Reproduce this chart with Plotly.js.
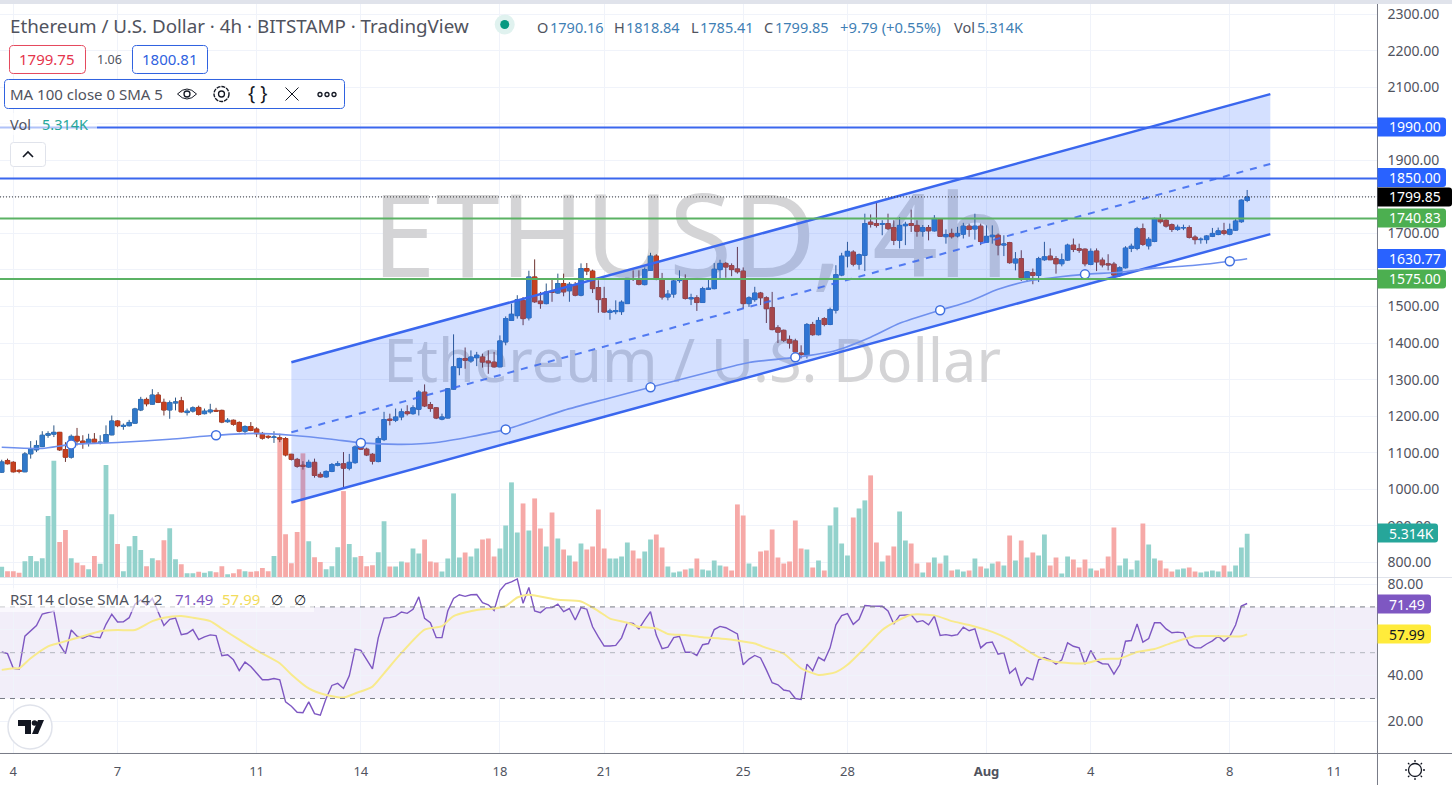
<!DOCTYPE html>
<html><head><meta charset="utf-8">
<script src="https://cdn.plot.ly/plotly-3.0.1.min.js"></script>
<style>html,body{margin:0;padding:0;background:#fff}#c{width:1452px;height:785px}</style>
</head><body><div id="c"></div>
<script>
const firstBar=-2;
const opens=[1047,1079,1074,1052,1048,1097,1108,1117,1148,1151,
1156,1109,1088,1145,1132,1127,1137,1128,1129,1149,
1187,1172,1174,1181,1217,1246,1233,1258,1238,1217,
1236,1242,1210,1214,1224,1207,1212,1216,1216,1185,
1189,1183,1159,1172,1165,1153,1145,1142,1141,1139,
1096,1082,1066,1061,1074,1041,1034,1049,1066,1070,
1058,1073,1123,1110,1096,1076,1136,1192,1189,
1198,1212,1207,1219,1266,1232,1223,1192,1195,1274,
1333,1358,1351,1360,1362,1351,1348,1335,1403,1462,
1475,1517,1469,1581,1515,1508,1541,1537,1563,1543,
1558,1531,1604,1597,1552,1522,1484,1486,1486,1508,
1576,1572,1560,1599,1638,1574,1526,
1534,1571,1575,1521,1524,1511,1547,1549,1601,1618,
1612,1603,1597,1508,1519,1537,1524,1497,1442,1435,
1410,1406,1373,1367,1451,1423,1467,1451,1490,1586,
1638,1649,1616,1640,1731,1727,1725,1727,1716,1681,
1721,1727,1722,1706,1716,1707,1739,1691,
1700,1693,1698,1720,1712,1720,1676,1691,1695,1668,
1675,1619,1631,1578,1593,1585,1628,1638,1631,1617,
1627,1668,1658,1657,1615,1652,1627,1617,1616,1586,
1606,1659,1659,1713,1666,1678,1740,1736,1724,1711,
1715,1716,1690,1683,1683,1692,1697,1707,1698,1709,
1732,1790.16];
const closes=[1075,1070,1048,1049,1097,1111,1120,1148,1152,1156,
1108,1088,1145,1132,1127,1137,1129,1129,1150,1187,
1174,1175,1183,1220,1246,1234,1258,1238,1217,1237,
1239,1212,1214,1223,1205,1214,1217,1214,1184,1189,
1178,1159,1172,1161,1152,1140,1143,1143,1138,1094,
1082,1063,1063,1074,1038,1034,1049,1068,1070,1058,
1074,1116,1110,1094,1077,1139,1191,1189,1198,
1212,1207,1223,1266,1228,1221,1195,1198,1275,1335,
1358,1353,1362,1367,1348,1346,1335,1406,1467,1479,
1519,1467,1581,1513,1508,1540,1539,1563,1540,1561,
1531,1604,1597,1549,1519,1485,1488,1489,1512,1577,
1574,1561,1601,1638,1574,1526,1534,
1570,1573,1522,1524,1511,1549,1550,1602,1618,1608,
1601,1595,1508,1524,1537,1524,1494,1437,1430,1408,
1400,1376,1369,1451,1423,1462,1451,1492,1587,1638,
1651,1616,1642,1727,1725,1722,1727,1713,1681,1722,
1725,1722,1706,1716,1707,1741,1692,1697,
1691,1700,1720,1711,1720,1678,1692,1695,1668,1671,
1620,1630,1579,1595,1585,1631,1636,1628,1617,1628,
1668,1656,1654,1617,1651,1622,1614,1614,1586,1606,
1660,1665,1713,1670,1684,1741,1732,1720,1711,1717,
1716,1689,1683,1684,1693,1700,1707,1700,1711,1734,
1791,1799.85];
const highs=[1081,1084,1077,1055,1102,1132,1134,1159,1159,1175,
1157,1129,1150,1168,1148,1152,1154,1148,1175,1202,
1189,1180,1190,1223,1253,1251,1274,1266,1248,1243,
1251,1253,1221,1227,1229,1221,1234,1223,1218,1195,
1191,1186,1175,1184,1170,1157,1148,1159,1152,1143,
1097,1086,1077,1081,1084,1047,1052,1072,1077,1102,
1097,1120,1134,1114,1099,1145,1212,1207,1221,
1221,1230,1230,1271,1287,1239,1225,1207,1277,1424,
1360,1388,1380,1376,1371,1380,1376,1421,1473,1508,
1531,1526,1598,1629,1540,1563,1577,1590,1590,1567,
1567,1618,1619,1601,1572,1554,1494,1517,1517,1578,
1599,1599,1607,1647,1643,1592,1545,
1576,1599,1588,1535,1531,1554,1574,1619,1628,1622,
1618,1663,1607,1528,1554,1540,1528,1540,1449,1437,
1421,1412,1394,1455,1458,1471,1471,1497,1613,1647,
1677,1654,1645,1754,1752,1784,1736,1754,1736,1745,
1732,1765,1736,1723,1723,1750,1741,1711,
1713,1718,1729,1727,1754,1727,1722,1722,1700,1695,
1677,1649,1654,1597,1604,1636,1677,1659,1638,1645,
1672,1686,1672,1659,1659,1659,1634,1643,1622,1610,
1665,1672,1718,1727,1690,1743,1753,1741,1727,1724,
1724,1722,1695,1689,1695,1715,1716,1729,1727,1741,
1793,1818.84];
const lows=[1045,1068,1046,1044,1047,1084,1102,1116,1141,1143,
1105,1075,1084,1120,1111,1117,1125,1123,1127,1148,
1170,1163,1172,1180,1214,1227,1232,1236,1202,1193,
1216,1210,1202,1210,1202,1205,1207,1212,1181,1182,
1174,1156,1150,1159,1143,1136,1138,1127,1129,1090,
1079,1059,1054,1059,1032,1032,1032,1047,1063,1006,
1052,1070,1108,1091,1068,1074,1132,1175,1184,
1189,1202,1204,1202,1225,1212,1192,1189,1194,1273,
1312,1330,1346,1337,1333,1316,1333,1334,1394,1461,
1467,1449,1462,1510,1494,1506,1513,1535,1528,1513,
1528,1528,1586,1537,1483,1483,1464,1479,1477,1508,
1570,1558,1558,1598,1572,1519,1517,
1524,1565,1519,1504,1488,1510,1546,1547,1576,1579,
1583,1590,1494,1499,1513,1504,1455,1435,1400,1403,
1385,1371,1358,1358,1420,1421,1446,1449,1481,1583,
1607,1610,1601,1597,1716,1716,1695,1709,1668,1659,
1668,1704,1691,1691,1681,1705,1691,1672,
1686,1689,1686,1691,1683,1668,1674,1672,1640,1638,
1617,1599,1570,1567,1561,1567,1625,1627,1590,1610,
1625,1649,1647,1610,1613,1597,1607,1599,1579,1581,
1604,1649,1654,1666,1656,1676,1727,1716,1704,1707,
1709,1686,1670,1672,1672,1690,1695,1695,1695,1707,
1729,1785.41];
const volumesK=[1.30,.77,.77,.57,1.99,2.60,1.99,2.35,7.46,14.19,
4.30,5.76,2.35,1.78,1.50,1.01,2.60,1.66,13.67,7.70,
4.06,.77,3.81,5.03,3.33,1.38,2.35,2.11,4.54,6.00,
2.23,1.62,.53,.53,.69,.57,.77,.65,1.38,.41,
.53,1.01,.77,.69,.77,1.14,.77,2.60,16.91,5.27,
1.74,5.52,15.09,4.42,2.47,1.87,1.01,1.38,3.69,10.50,
4.06,2.47,2.60,1.38,1.50,3.08,6.85,
1.34,1.34,1.95,1.82,3.53,2.92,4.62,1.95,1.82,.73,2.31,10.22,2.43,3.04,2.55,3.53,4.62,4.74,2.55,3.53,6.33,11.56,5.47,9.0,5.72,9.61,5.96,3.77,7.91,4.74,3.41,2.68,1.95,4.14,3.41,3.77,8.27,3.53,2.31,2.31,2.55,4.26,3.28,2.31,3.16,4.62,5.23,3.65,1.34,.61,.73,.97,1.09,2.31,.97,.85,2.07,1.46,1.34,.85,8.88,7.54,1.70,1.34,3.16,3.28,5.84,2.43,1.70,1.95,6.93,3.53,3.41,1.22,2.07,
.85,6.33,8.52,4.14,2.68,7.30,8.39,9.37,12.41,4.26,1.95,2.68,3.77,8.03,4.50,4.14,1.70,.61,1.82,2.43,1.70,2.68,.85,.97,.73,.85,2.31,1.34,1.09,1.70,1.95,1.46,5.11,2.07,4.50,2.43,3.04,2.68,5.23,1.46,2.43,.49,2.55,2.19,1.22,2.19,1.09,.85,1.09,2.55,6.08,1.46,2.31,.97,2.07,6.57,4.01,2.31,2.07,1.09,.73,.97,1.09,1.22,.73,.61,.73,.85,.73,1.46,.73,1.46,3.65,5.314];
const rsiValues=[50.3,49.6,43.2,42.8,57.2,59.4,61.9,66.9,67.4,68.2,53.5,49.6,59.9,57.2,56.3,57.5,56.8,56.5,62.4,66.8,
63.4,63.5,65.3,71.2,73.1,70.7,73.7,67.8,61.9,64.6,65.1,57.9,58.4,60.1,55.7,56.9,57.8,57.5,48.7,49.1,
46.9,42.2,45.9,44.0,41.3,38.2,38.2,38.7,38.1,28.5,26.6,24.0,23.8,28.5,23.4,22.7,30.0,35.7,36.6,34.4,
39.9,51.6,51.0,46.9,42.9,56.5,65.1,65.3,66.0,67.8,67.2,69.0,74.4,65.0,63.1,56.6,56.6,68.2,73.7,75.3,
74.6,75.3,75.4,71.9,70.9,68.5,77.1,80.1,80.9,82.2,71.6,78.5,68.2,67.5,69.6,69.7,71.2,67.9,69.3,64.3,
69.7,69.0,61.3,56.9,52.9,52.9,53.2,56.5,63.1,62.8,60.4,64.3,67.9,57.7,51.8,52.4,56.6,57.2,50.2,50.2,
48.8,53.5,54.0,60.1,61.5,60.9,59.4,58.2,44.7,47.2,48.8,47.7,42.5,36.9,36.0,33.7,33.2,30.0,29.6,45.0,
42.1,48.0,46.5,52.1,62.2,66.2,67.1,62.4,64.6,70.6,70.4,70.4,70.3,68.2,62.5,66.3,66.5,66.6,63.4,64.0,
62.2,66.0,57.5,57.9,57.4,57.9,61.2,59.6,60.4,52.1,54.3,54.7,49.3,49.9,41.0,43.2,35.5,39.1,38.1,46.9,
47.9,46.9,45.0,46.9,54.3,52.8,52.1,45.0,51.0,46.5,45.2,45.0,40.6,44.7,55.0,55.3,62.6,54.6,56.2,63.1,
63.1,60.4,58.7,59.0,58.7,53.5,52.1,52.1,53.8,55.2,57.2,55.0,57.2,62.1,70.4,71.49];
const rsiSmaBars=[-2,0,1,3,6,8,12,15,18,21,24,26,29,31,34,36,39,42,46,48,51,54,57,59,62,64,67,71,74,76,80,83,85,87,89,94,98,101,103,106,108,111,113,116,119,123,125,128,130,133,136,139,142,144,147,150,152,155,159,162,165,169,172,175,177,180,185,188,191,194,197,200,204,208,212,213];
const rsiSmaValues=[42.5,43.2,43.2,47.6,52.8,54.3,57.2,59.4,59.9,59.9,63.8,65.3,66.0,65.3,63.8,60.5,55.7,51.0,45.4,40.5,34.4,31.5,30.4,32.2,35.2,41.0,49.9,60.1,61.6,66.0,68.7,69.3,70.4,74.1,75.3,73.1,72.4,68.2,64.9,63.1,61.3,60.6,58.2,57.7,56.8,56.0,55.3,54.0,52.1,49.6,43.2,40.3,41.5,44.7,52.1,59.9,63.1,66.6,66.3,63.8,62.1,59.1,55.7,51.0,48.1,45.9,45.4,47.2,47.5,50.3,51.6,54.3,57.2,57.2,57.2,57.99];
const maBars=[-2,5,10,18,27,35,42,48,55,60,67,73,85,95,102,110,120,127,135,142,148,153,160,165,170,175,180,185,191,197,204,210,213];
const maValues=[1115,1112,1123,1128,1137,1148,1153,1148,1137,1127,1123,1128,1164,1216,1246,1279,1320,1347,1361,1380,1416,1454,1490,1514,1547,1569,1580,1588,1594,1605,1613,1624,1630.77];
const maHandleBars=[10,35,60,85,110,135,160,185,210];
const maHandleValues=[1123,1148,1127,1164,1279,1361,1490,1588,1624];
const channelBars=[48,217];
const channelUpper=[1347.5,2081];
const channelMiddle=[1156,1890];
const channelLower=[964,1698];
const blueLevels=[1990,1850];
const greenLevels=[1740.83,1575];
const lastClose=1799.85;
const xTickBars=[0,18,42,60,84,102,126,144,168,186,210,228];
const xTickText=['4','7','11','14','18','21','25','28','<b>Aug</b>','4','8','11'];
const priceTicks=[800,900,1000,1100,1200,1300,1400,1500,1600,1700,1800,1900,2000,2100,2200,2300];
const priceTickText=['800.00','900.00','1000.00','1100.00','1200.00','1300.00','1400.00','1500.00','','1700.00','','1900.00','','2100.00','2200.00','2300.00'];
const rsiTicks=[20,40,60,80];
const rsiTickText=['20.00','40.00','','80.00'];

if([opens,closes,highs,lows,volumesK,rsiValues].some(a=>a.length!==216)) throw new Error('len '+[opens,closes,highs,lows,volumesK,rsiValues].map(a=>a.length));
if(rsiSmaBars.length!==rsiSmaValues.length||maBars.length!==maValues.length) throw new Error('anchor len');

const F='"Noto Sans", sans-serif';
const W=1452,H=785;
const bars=opens.map((_,k)=>k+firstBar);
const xRange=[-2.297,235.5];
const priceRange=[758.9,2327.5];
const lineX=xRange;
const bodyHi=opens.map((o,k)=>Math.max(o,closes[k]));
const bodyLo=opens.map((o,k)=>Math.min(o,closes[k]));
const volColors=opens.map((o,k)=>closes[k]>=o?'#93d2cc':'#f6a9a7');

const lvl=(v,color,w,dash,y='y4')=>({x:lineX,y:[v,v],xaxis:'x',yaxis:y,mode:'lines',type:'scatter',line:{color,width:w,dash:dash||'solid'},hoverinfo:'skip'});

const traces=[
 {type:'scatter',mode:'text',x:[116.9],y:[1659],text:['ETHUSD, 4h'],textposition:'middle center',textfont:{family:F,size:115,color:'#d4d4d6'},xaxis:'x',yaxis:'y',hoverinfo:'skip'},
 {type:'scatter',mode:'text',x:[117.2],y:[1334],text:['Ethereum / U.S. Dollar'],textposition:'middle center',textfont:{family:F,size:59.5,color:'#d4d4d6'},xaxis:'x',yaxis:'y',hoverinfo:'skip'},
 {type:'bar',x:bars,y:volumesK,marker:{color:volColors,line:{width:0}},xaxis:'x',yaxis:'y2',hoverinfo:'skip'},
 {type:'candlestick',x:bars,open:opens,high:highs,low:lows,close:closes,whiskerwidth:0,
  increasing:{line:{color:'#2c5685',width:1},fillcolor:'#3179c9'},decreasing:{line:{color:'#6e3330',width:1},fillcolor:'#c6401f'},xaxis:'x',yaxis:'y3',hoverinfo:'skip'},
 {type:'candlestick',x:bars,open:opens,high:bodyHi,low:bodyLo,close:closes,whiskerwidth:0,
  increasing:{line:{color:'#3179c9',width:0.5},fillcolor:'#3179c9'},decreasing:{line:{color:'#c6401f',width:0.5},fillcolor:'#c6401f'},xaxis:'x',yaxis:'y3',hoverinfo:'skip'},
 {type:'scatter',mode:'lines',x:[channelBars[0],channelBars[1],channelBars[1],channelBars[0],channelBars[0]],y:[channelUpper[0],channelUpper[1],channelLower[1],channelLower[0],channelUpper[0]],fill:'toself',fillcolor:'rgba(41,98,255,0.2)',line:{width:0},xaxis:'x',yaxis:'y4',hoverinfo:'skip'},
 {type:'scatter',mode:'lines',x:channelBars,y:channelUpper,line:{color:'#3a67ee',width:2.5},xaxis:'x',yaxis:'y4',hoverinfo:'skip'},
 {type:'scatter',mode:'lines',x:channelBars,y:channelLower,line:{color:'#3a67ee',width:2.5},xaxis:'x',yaxis:'y4',hoverinfo:'skip'},
 {type:'scatter',mode:'lines',x:channelBars,y:channelMiddle,line:{color:'#3a67ee',width:2,dash:'7px,7px'},opacity:.85,xaxis:'x',yaxis:'y4',hoverinfo:'skip'},
 {type:'scatter',mode:'lines',x:maBars,y:maValues,line:{color:'#6f90ee',width:1.6,shape:'spline',smoothing:.6},xaxis:'x',yaxis:'y4',hoverinfo:'skip'},
 {type:'scatter',mode:'markers',x:maHandleBars,y:maHandleValues,marker:{size:9,color:'#fff',line:{color:'#3f6fe0',width:1.5}},xaxis:'x',yaxis:'y4',hoverinfo:'skip'},
 lvl(blueLevels[0],'#3a67ee',2),lvl(blueLevels[1],'#3a67ee',2),
 lvl(greenLevels[0],'#5bb264',2),lvl(greenLevels[1],'#5bb264',2),
 lvl(lastClose,'#333',1,'1px,2px'),
 {type:'scatter',mode:'lines',x:bars,y:rsiValues,line:{color:'#7e57c2',width:1.4},xaxis:'x',yaxis:'y5',hoverinfo:'skip'},
 {type:'scatter',mode:'lines',x:rsiSmaBars,y:rsiSmaValues,line:{color:'#f8ea8c',width:2,shape:'spline',smoothing:.6},xaxis:'x',yaxis:'y5',hoverinfo:'skip'},
 lvl(70,'#787b86',1,'5px,5px','y5'),lvl(50,'#b2b5be',1,'5px,5px','y5'),lvl(30,'#787b86',1,'5px,5px','y5')
];

const px=x=>x/W, py=y=>1-y/H;
function P(s){let n=0;return s.replace(/-?\d+(\.\d+)?/g,m=>{const v=parseFloat(m);return (n++%2===0?px(v):py(v)).toFixed(5);});}
const shapes=[], ann=[];
const pathS=(d,o)=>shapes.push(Object.assign({type:'path',xref:'paper',yref:'paper',path:P(d),layer:'above',line:{width:1,color:'#131722'}},o||{}));
const circ=(cx,cy,r,o)=>shapes.push(Object.assign({type:'circle',xref:'paper',yref:'paper',x0:px(cx-r),x1:px(cx+r),y0:py(cy+r),y1:py(cy-r),layer:'above',line:{width:1.3,color:'#131722'}},o||{}));
const rr=(a,b,c,d,r)=>`M ${a+r} ${b} L ${c-r} ${b} Q ${c} ${b} ${c} ${b+r} L ${c} ${d-r} Q ${c} ${d} ${c-r} ${d} L ${a+r} ${d} Q ${a} ${d} ${a} ${d-r} L ${a} ${b+r} Q ${a} ${b} ${a+r} ${b} Z`;
const txt=(t,x,y,size,color,anchor,extra)=>ann.push(Object.assign({text:t,x:px(anchor?x:x-2),y:py(y),xref:'paper',yref:'paper',xanchor:anchor||'left',yanchor:'middle',showarrow:false,font:{family:F,size,color}},extra||{}));

// frame
shapes.push({type:'rect',xref:'paper',yref:'paper',x0:0,x1:1,y0:py(4),y1:1,fillcolor:'#e0e3eb',line:{width:0},layer:'above'});
pathS('M 0 577.5 L 1452 577.5',{line:{width:1,color:'#e0e3eb'}});
pathS('M 0 753.5 L 1452 753.5',{line:{width:1,color:'#787b86'}});
pathS('M 1377.5 4 L 1377.5 785',{line:{width:1,color:'#787b86'}});
// RSI band
shapes.push({type:'rect',xref:'x',yref:'y5',x0:xRange[0],x1:xRange[1],y0:30,y1:70,fillcolor:'rgba(126,87,194,0.1)',line:{width:0},layer:'below'});
// legend veils
pathS('M 0 113 L 97 113 L 97 135 L 0 135 Z',{fillcolor:'rgba(255,255,255,.6)',line:{width:0}});
pathS('M 0 588 L 314 588 L 314 612 L 0 612 Z',{fillcolor:'rgba(255,255,255,.6)',line:{width:0}});

// header
txt('Ethereum / U.S. Dollar · 4h · BITSTAMP · TradingView',10,26,18.8,'#50535e');
circ(504.7,24.5,10,{fillcolor:'#e0f2ef',line:{width:0}});circ(504.7,24.5,4.5,{fillcolor:'#089981',line:{width:0}});
const V='#3f7fb5',L='#50535e';
[['O',536.7,'1790.16',549.5],['H',613.9,'1818.84',626],['L',690.7,'1785.41',699.5],['C',764.4,'1799.85',775]].forEach(a=>{txt(a[0],a[1],26.8,14.5,L);txt(a[2],a[3],26.8,14.5,V);});
txt('+9.79 (+0.55%)',840,26.8,14.8,V);txt('Vol',954,26.8,14.5,L);txt('5.314K',977,26.8,14.5,V);
// buy/sell
pathS(rr(9.5,45.5,85.5,73.5,4),{fillcolor:'#fff',line:{width:1,color:'#e5485d'}});
txt('1799.75',47.5,59.5,15,'#e5354c','center');
txt('1.06',109,59.5,12.5,'#50535e','center');
pathS(rr(132.5,45.5,207.5,73.5,4),{fillcolor:'#fff',line:{width:1,color:'#2f62e0'}});
txt('1800.81',170,59.5,15,'#2f62e0','center');
// MA box
pathS(rr(4.5,79.5,344.5,108.5,4),{fillcolor:'#fff',line:{width:1,color:'#2f62e0'}});
txt('MA 100 close 0 SMA 5',10,94.5,15,'#50535e');
pathS('M 177.5 94 Q 187 84 196.5 94 Q 187 104 177.5 94 Z',{fillcolor:'rgba(0,0,0,0)'});circ(187,94,3);
circ(221.5,94,7.5,{line:{width:1.4,color:'#131722',dash:'4px,1px'}});circ(221.5,94,3);
txt('{ }',257,93,19,'#131722','center');
pathS('M 285.5 87.5 L 298.5 100.5 M 298.5 87.5 L 285.5 100.5');
[320,327,334].forEach(x=>circ(x,94.5,2));
txt('Vol',10,124,14.5,'#50535e');txt('5.314K',42,124,14.5,'#26a69a');
pathS(rr(10.5,142.5,45.5,166.5,3),{fillcolor:'#fff',line:{width:1,color:'#e0e3eb'}});
pathS('M 23 157 L 28 152 L 33 157',{line:{width:1.6,color:'#131722'}});
// RSI legend
txt('RSI 14 close SMA 14 2',10,599,15,'#50535e');txt('71.49',175,599,15,'#7e57c2');txt('57.99',222,599,15,'#f2dc5c');
txt('∅',277,599,14,'#131722','center');txt('∅',300,599,14,'#131722','center');
// price tags
[['1990.00',127,'#2962ff','#fff',1446],['1850.00',177.5,'#2962ff','#fff',1446],['1799.85',197,'#000','#fff',1452],['1740.83',218,'#4caf50','#fff',1446],['1630.77',258.5,'#2962ff','#fff',1446],['1575.00',279,'#4caf50','#fff',1446],['5.314K',533,'#26a69a','#fff',1438],['71.49',604,'#7e57c2','#fff',1431],['57.99',634,'#ffeb3b','#131722',1431]].forEach(t=>{
  const a=1377.5,b=t[1]-9.5,c=t[4],d=t[1]+9.5,r=3;
  pathS(`M ${a} ${b} L ${c-r} ${b} Q ${c} ${b} ${c} ${b+r} L ${c} ${d-r} Q ${c} ${d} ${c-r} ${d} L ${a} ${d} Z`,{fillcolor:t[2],line:{width:0}});
  txt(t[0],1389,t[1],14,t[3]);
});
// TV logo
circ(30,727,22,{fillcolor:'#fff',line:{width:1.5,color:'#e0e3eb'}});
pathS('M 18 720 L 31 720 L 31 734 L 25 734 L 25 726 L 18 726 Z',{fillcolor:'#131722',line:{width:0}});
circ(34.5,723,2.8,{fillcolor:'#131722',line:{width:0}});
pathS('M 32 734 L 38 720 L 44 720 L 38 734 Z',{fillcolor:'#131722',line:{width:0}});
// sun icon
circ(1415,770,6.5,{line:{width:1.3,color:'#131722'}});
[[0,-10,0,-8],[0,8,0,10],[-10,0,-8,0],[8,0,10,0],[-7,-7,-5.6,-5.6],[5.6,5.6,7,7],[-7,7,-5.6,5.6],[5.6,-5.6,7,-7]].forEach(r=>pathS(`M ${1415+r[0]} ${770+r[1]} L ${1415+r[2]} ${770+r[3]}`,{line:{width:1.3,color:'#131722'}}));

const tickF={family:F,size:14,color:'#50535e'};
const pd=[py(577.5),py(4)];
const hidden={domain:pd,overlaying:'y',visible:false,fixedrange:true};
const layout={width:W,height:H,margin:{l:0,r:0,t:0,b:0},paper_bgcolor:'#fff',plot_bgcolor:'#fff',showlegend:false,hovermode:false,
 boxmode:'overlay',boxgap:.24,boxgroupgap:0,bargap:.17,barmode:'overlay',
 xaxis:{domain:[0,1377.5/W],range:xRange,anchor:'y5',tickmode:'array',tickvals:xTickBars,ticktext:xTickText,gridcolor:'#f0f3fa',gridwidth:1,showline:false,zeroline:false,ticks:'',ticklen:0,tickfont:{family:F,size:13,color:'#50535e'},ticklabelstandoff:8,rangeslider:{visible:false},fixedrange:true},
 yaxis:{domain:pd,range:priceRange,side:'right',anchor:'x',tickmode:'array',tickvals:priceTicks,ticktext:priceTickText,gridcolor:'#f0f3fa',gridwidth:1,showline:false,zeroline:false,ticks:'',tickfont:tickF,ticklabelstandoff:9,fixedrange:true},
 yaxis2:Object.assign({},hidden,{range:[0,69.7]}),
 yaxis3:Object.assign({},hidden,{range:priceRange}),
 yaxis4:Object.assign({},hidden,{range:priceRange}),
 yaxis5:{domain:[py(753.5),py(578)],range:[5.97,82.63],side:'right',anchor:'x',tickmode:'array',tickvals:rsiTicks,ticktext:rsiTickText,gridcolor:'#f0f3fa',gridwidth:1,showline:false,zeroline:false,ticks:'',tickfont:tickF,ticklabelstandoff:9,fixedrange:true},
 shapes,annotations:ann};
Plotly.newPlot('c',traces,layout,{staticPlot:true,displayModeBar:false});
</script></body></html>
